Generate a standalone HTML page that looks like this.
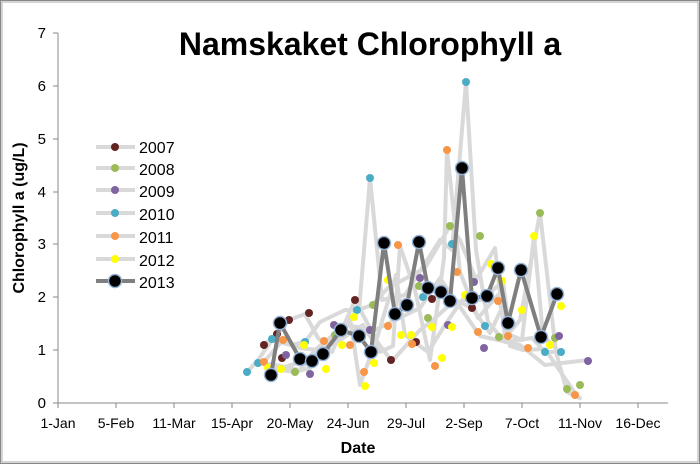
<!DOCTYPE html>
<html><head><meta charset="utf-8"><style>
html,body{margin:0;padding:0;background:#fff;}
svg{display:block;font-family:"Liberation Sans",sans-serif;}
</style></head><body>
<svg width="700" height="464" viewBox="0 0 700 464" xmlns="http://www.w3.org/2000/svg">
<rect x="0.5" y="0.5" width="699" height="463" fill="#fff" stroke="#888" stroke-width="1"/>
<rect x="2" y="2" width="696" height="460" fill="none" stroke="#aaa" stroke-width="1"/>
<text x="370" y="55" font-size="32" font-weight="bold" text-anchor="middle" fill="#000">Namskaket Chlorophyll a</text>
<!-- axes -->
<line x1="58" y1="33" x2="58" y2="403" stroke="#888"/>
<line x1="58" y1="403" x2="668" y2="403" stroke="#888"/>
<g stroke="#888">
<line x1="53" y1="403" x2="58" y2="403"/><line x1="53" y1="350" x2="58" y2="350"/><line x1="53" y1="297" x2="58" y2="297"/><line x1="53" y1="244" x2="58" y2="244"/><line x1="53" y1="192" x2="58" y2="192"/><line x1="53" y1="139" x2="58" y2="139"/><line x1="53" y1="86" x2="58" y2="86"/><line x1="53" y1="33" x2="58" y2="33"/>
<line x1="58" y1="403" x2="58" y2="408"/><line x1="116" y1="403" x2="116" y2="408"/><line x1="174" y1="403" x2="174" y2="408"/><line x1="232" y1="403" x2="232" y2="408"/><line x1="290" y1="403" x2="290" y2="408"/><line x1="348" y1="403" x2="348" y2="408"/><line x1="406" y1="403" x2="406" y2="408"/><line x1="464" y1="403" x2="464" y2="408"/><line x1="522" y1="403" x2="522" y2="408"/><line x1="580" y1="403" x2="580" y2="408"/><line x1="638" y1="403" x2="638" y2="408"/>
</g>
<g font-size="15" fill="#000" text-anchor="end">
<text x="46" y="408">0</text><text x="46" y="355">1</text><text x="46" y="302">2</text><text x="46" y="249">3</text><text x="46" y="197">4</text><text x="46" y="144">5</text><text x="46" y="91">6</text><text x="46" y="38">7</text>
</g>
<g font-size="14" fill="#000" text-anchor="middle">
<text x="58" y="428">1-Jan</text><text x="116" y="428">5-Feb</text><text x="174" y="428">11-Mar</text><text x="232" y="428">15-Apr</text><text x="290" y="428">20-May</text><text x="348" y="428">24-Jun</text><text x="406" y="428">29-Jul</text><text x="464" y="428">2-Sep</text><text x="522" y="428">7-Oct</text><text x="580" y="428">11-Nov</text><text x="638" y="428">16-Dec</text>
</g>
<text x="358" y="453" font-size="16" font-weight="bold" text-anchor="middle">Date</text>
<text transform="translate(24,218) rotate(-90)" font-size="16" font-weight="bold" text-anchor="middle">Chlorophyll a (ug/L)</text>
<!-- background series -->
<g fill="none" stroke="#d9d9d9" stroke-width="4" stroke-linejoin="round" stroke-linecap="round">
<polyline points="264,345 277,334 289,320 305,314 318,338 332,352 355,300 378,343 391,360 393,360 420,330 433,320 455,300 472,308 490,333 500,312"/>
<polyline points="268,368 295,372 310,368 335,335 358,310 372,305 388,288 425,268 450,226 460,240 476,280 495,248 505,338 520,320 540,213 556,352 567,392 580,398"/>
<polyline points="270,364 300,370 315,350 345,325 375,330 420,308 440,278 480,336 520,345 545,365 588,360"/>
<polyline points="247,372 258,360 272,340 290,345 305,342 320,322 345,310 359,311 370,178 382,300 405,295 426,262 440,240 452,250 466,82 476,250 488,322 505,342 532,338 545,352 561,352"/>
<polyline points="264,362 283,340 300,348 318,350 340,340 363,325 380,352 393,346 400,246 415,290 430,360 444,258 447,150 460,272 478,318 498,295 510,346 523,350 545,349 577,396"/>
<polyline points="268,368 282,368 300,362 330,345 350,318 360,385 377,338 396,275 405,335 428,352 445,325 462,300 480,300 503,282 510,335 522,340 534,236 543,336 556,348"/>
</g>
<!-- dots -->
<g fill="#632523">
<circle cx="264" cy="345" r="4"/><circle cx="277" cy="334" r="4"/><circle cx="289" cy="320" r="4"/><circle cx="309" cy="313" r="4"/><circle cx="355" cy="300" r="4"/><circle cx="391" cy="360" r="4"/><circle cx="416" cy="342" r="4"/><circle cx="432" cy="299" r="4"/><circle cx="472" cy="308" r="4"/><circle cx="282" cy="358" r="4"/>
</g>
<g fill="#9bbb59">
<circle cx="295" cy="372" r="4"/><circle cx="335" cy="335" r="4"/><circle cx="373" cy="305" r="4"/><circle cx="428" cy="318" r="4"/><circle cx="450" cy="226" r="4"/><circle cx="480" cy="236" r="4"/><circle cx="540" cy="213" r="4"/><circle cx="555" cy="338" r="4"/><circle cx="567" cy="389" r="4"/><circle cx="580" cy="385" r="4"/><circle cx="499" cy="337" r="4"/><circle cx="419" cy="286" r="4"/>
</g>
<g fill="#8064a2">
<circle cx="310" cy="374" r="4"/><circle cx="334" cy="325" r="4"/><circle cx="370" cy="330" r="4"/><circle cx="420" cy="278" r="4"/><circle cx="448" cy="325" r="4"/><circle cx="474" cy="282" r="4"/><circle cx="484" cy="348" r="4"/><circle cx="559" cy="336" r="4"/><circle cx="588" cy="361" r="4"/><circle cx="286" cy="355" r="4"/>
</g>
<g fill="#4bacc6">
<circle cx="247" cy="372" r="4"/><circle cx="258" cy="363" r="4"/><circle cx="272" cy="339" r="4"/><circle cx="305" cy="342" r="4"/><circle cx="357" cy="310" r="4"/><circle cx="370" cy="178" r="4"/><circle cx="423" cy="297" r="4"/><circle cx="452" cy="244" r="4"/><circle cx="466" cy="82" r="4"/><circle cx="485" cy="326" r="4"/><circle cx="545" cy="352" r="4"/><circle cx="561" cy="352" r="4"/><circle cx="340" cy="330" r="4"/>
</g>
<g fill="#f79646">
<circle cx="264" cy="362" r="4"/><circle cx="283" cy="340" r="4"/><circle cx="324" cy="341" r="4"/><circle cx="350" cy="345" r="4"/><circle cx="364" cy="372" r="4"/><circle cx="388" cy="326" r="4"/><circle cx="398" cy="245" r="4"/><circle cx="412" cy="344" r="4"/><circle cx="435" cy="366" r="4"/><circle cx="447" cy="150" r="4"/><circle cx="457" cy="272" r="4"/><circle cx="478" cy="332" r="4"/><circle cx="498" cy="301" r="4"/><circle cx="508" cy="336" r="4"/><circle cx="528" cy="348" r="4"/><circle cx="575" cy="395" r="4"/>
</g>
<g fill="#ffff00">
<circle cx="268" cy="368" r="4"/><circle cx="281" cy="369" r="4"/><circle cx="304" cy="345" r="4"/><circle cx="326" cy="369" r="4"/><circle cx="342" cy="345" r="4"/><circle cx="354" cy="317" r="4"/><circle cx="365" cy="386" r="4"/><circle cx="374" cy="363" r="4"/><circle cx="388" cy="280" r="4"/><circle cx="401" cy="335" r="4"/><circle cx="411" cy="335" r="4"/><circle cx="432" cy="327" r="4"/><circle cx="442" cy="358" r="4"/><circle cx="452" cy="327" r="4"/><circle cx="465" cy="295" r="4"/><circle cx="491" cy="264" r="4"/><circle cx="502" cy="281" r="4"/><circle cx="522" cy="310" r="4"/><circle cx="534" cy="236" r="4"/><circle cx="550" cy="345" r="4"/><circle cx="561" cy="306" r="4"/>
</g>
<!-- 2013 -->
<polyline fill="none" stroke="#7f7f7f" stroke-width="4" stroke-linejoin="round" points="271,375 280,323 300,359 312,361 323,354 341,330 359,336 371,352 384,243 395,314 407,305 419,242 428,288 441,292 450,301 462,168 472,298 487,296 498,268 508,323 521,270 541,337 557,294"/>
<g fill="#000" stroke="#95b3d7" stroke-width="1.5">
<circle cx="271" cy="375" r="6.5"/><circle cx="280" cy="323" r="6.5"/><circle cx="300" cy="359" r="6.5"/><circle cx="312" cy="361" r="6.5"/><circle cx="323" cy="354" r="6.5"/><circle cx="341" cy="330" r="6.5"/><circle cx="359" cy="336" r="6.5"/><circle cx="371" cy="352" r="6.5"/><circle cx="384" cy="243" r="6.5"/><circle cx="395" cy="314" r="6.5"/><circle cx="407" cy="305" r="6.5"/><circle cx="419" cy="242" r="6.5"/><circle cx="428" cy="288" r="6.5"/><circle cx="441" cy="292" r="6.5"/><circle cx="450" cy="301" r="6.5"/><circle cx="462" cy="168" r="6.5"/><circle cx="472" cy="298" r="6.5"/><circle cx="487" cy="296" r="6.5"/><circle cx="498" cy="268" r="6.5"/><circle cx="508" cy="323" r="6.5"/><circle cx="521" cy="270" r="6.5"/><circle cx="541" cy="337" r="6.5"/><circle cx="557" cy="294" r="6.5"/>
</g>
<!-- legend -->
<g stroke="#d9d9d9" stroke-width="4">
<line x1="96" y1="147" x2="135" y2="147"/><line x1="96" y1="168" x2="135" y2="168"/><line x1="96" y1="190" x2="135" y2="190"/><line x1="96" y1="213" x2="135" y2="213"/><line x1="96" y1="236" x2="135" y2="236"/><line x1="96" y1="259" x2="135" y2="259"/>
</g>
<line x1="96" y1="281" x2="135" y2="281" stroke="#7f7f7f" stroke-width="4"/>
<circle cx="115" cy="147" r="4" fill="#632523"/><circle cx="115" cy="168" r="4" fill="#9bbb59"/><circle cx="115" cy="190" r="4" fill="#8064a2"/><circle cx="115" cy="213" r="4" fill="#4bacc6"/><circle cx="115" cy="236" r="4" fill="#f79646"/><circle cx="115" cy="259" r="4" fill="#ffff00"/>
<circle cx="115" cy="281" r="6.5" fill="#000" stroke="#95b3d7" stroke-width="1.5"/>
<g font-size="16" fill="#000">
<text x="139" y="153">2007</text><text x="139" y="175">2008</text><text x="139" y="197">2009</text><text x="139" y="220">2010</text><text x="139" y="243">2011</text><text x="139" y="266">2012</text><text x="139" y="288">2013</text>
</g>
</svg>
</body></html>
